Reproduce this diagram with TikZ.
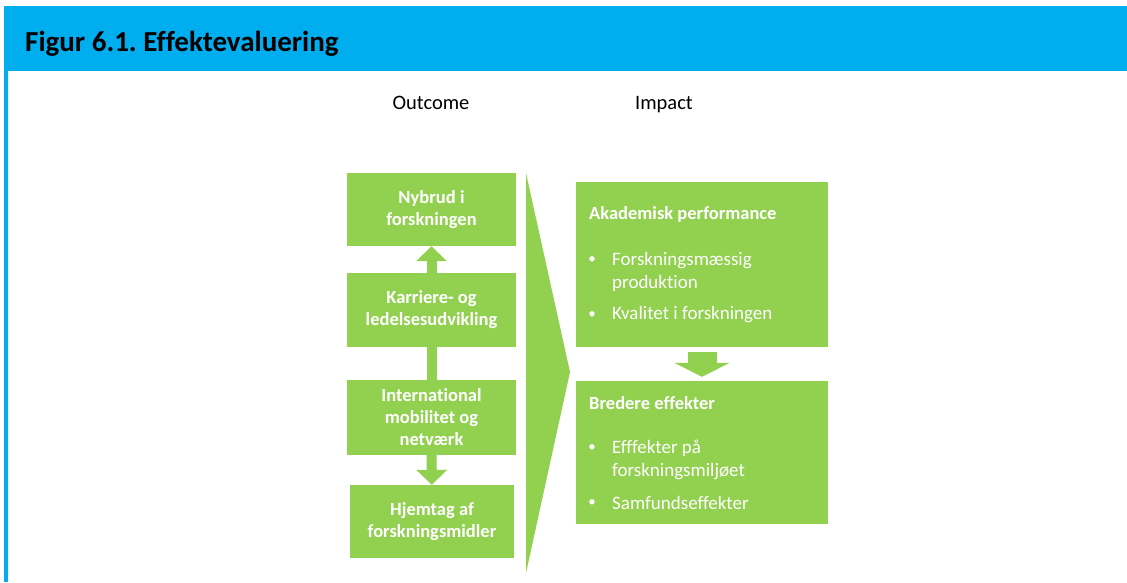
\documentclass[tikz,border=0pt]{standalone}
\usepackage{fontspec}
\setmainfont{Carlito}[Ligatures=NoCommon]
\usetikzlibrary{arrows.meta}
\frenchspacing

\definecolor{bannerblue}{HTML}{00ADEF}
\definecolor{boxgreen}{HTML}{92D050}

\tikzset{
  outbox/.style={fill=boxgreen,minimum width=169pt,minimum height=74pt,inner sep=0pt,
    align=center,text=white,font=\fontsize{18.5}{22}\selectfont\bfseries},
  impbox/.style={fill=boxgreen,minimum width=252pt,inner sep=0pt},
  headtxt/.style={anchor=west,inner sep=0pt,text=white,font=\fontsize{18.5}{22}\selectfont\bfseries},
  itemtxt/.style={anchor=west,inner sep=0pt,align=left,text=white,font=\fontsize{19}{23}\selectfont},
  bullet/.style={inner sep=0pt,text=white,font=\fontsize{15}{18}\selectfont},
  coltxt/.style={anchor=base,inner sep=0pt,font=\fontsize{20.5}{24}\selectfont},
  blockline/.style={draw=boxgreen,line width=10pt}
}

\begin{document}
\begin{tikzpicture}[x=1pt,y=-1pt]
  \useasboundingbox (0,0) rectangle (1127,582);
  \fill[white] (0,0) rectangle (1127,582);
  % banner
  \fill[bannerblue] (4,6) rectangle (1127,71);
  \fill[bannerblue] (4,71) rectangle (8,582);
  \node[anchor=base west,inner sep=0pt,font=\fontsize{29}{33}\selectfont\bfseries] (title) at (25,51) {Figur 6.1. Effektevaluering};

  \node[coltxt] (outcome) at (431,109) {Outcome};
  \node[coltxt] (impact) at (664,109) {Impact};

  % outcome
  \node[outbox,minimum height=73pt] (nyb) at (431.5,209.5) {Nybrud i\\forskningen};
  \node[outbox] (kar) at (431.5,310) {Karriere- og\\ledelsesudvikling};
  \node[outbox,minimum height=75pt] (int) at (431.5,417.5) {International\\mobilitet og\\netværk};
  \node[outbox,minimum width=164pt,minimum height=73pt] (hje) at (432,521.5) {Hjemtag af\\forskningsmidler};
  \draw[blockline,-{Triangle[width=30pt,length=15pt]}] (kar) -- (nyb);
  \draw[blockline] (kar) -- (int);
  \draw[blockline,-{Triangle[width=30pt,length=15pt]}] (int) -- (hje);

  % chevron
  \fill[boxgreen] (526,173) -- (570,372) -- (526,573) -- cycle;

  % impact
  \node[impbox,minimum height=165pt] (aka) at (702,264.5) {};
  \node[impbox,minimum height=143pt] (bre) at (702,452.5) {};
  \draw[draw=boxgreen,line width=29pt,shorten <=5pt,shorten >=4pt,
    -{Triangle[width=55pt,length=14pt]}] (aka) -- (bre);

  \node[headtxt] (akah) at (589,214) {Akademisk performance};
  \node[bullet] (b1) at (592,260) {•};
  \node[itemtxt] (a1) at (612,271.5) {Forskningsmæssig\\produktion};
  \node[bullet] (b2) at (592,315) {•};
  \node[itemtxt] (a2) at (612,315) {Kvalitet i forskningen};

  \node[headtxt] (breh) at (589,403) {Bredere effekter};
  \node[bullet] (b3) at (592,448) {•};
  \node[itemtxt] (e1) at (612,459.5) {Efffekter på\\forskningsmiljøet};
  \node[bullet] (b4) at (592,503) {•};
  \node[itemtxt] (e2) at (612,503) {Samfundseffekter};
\end{tikzpicture}
\end{document}
